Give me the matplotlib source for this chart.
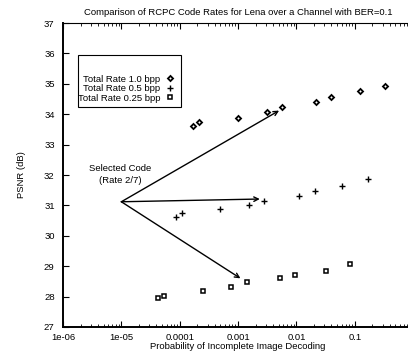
import matplotlib
matplotlib.use("Agg")
import matplotlib.pyplot as plt
from matplotlib.patches import Rectangle
import numpy as np

plt.rcParams['font.family'] = ['Liberation Sans', 'DejaVu Sans']

# probability of incomplete decoding vs PSNR, one series per total rate
p_10 = [1.70e-4, 2.16e-4, 1.0e-3, 3.08e-3, 5.69e-3, 0.0215, 0.0399, 0.125, 0.336]
psnr_10 = [33.61, 33.73, 33.89, 34.06, 34.23, 34.39, 34.57, 34.75, 34.94]

p_05 = [8.5e-5, 1.10e-4, 5.0e-4, 1.53e-3, 2.77e-3, 0.0113, 0.0209, 0.0615, 0.167]
psnr_05 = [30.62, 30.74, 30.88, 31.02, 31.16, 31.32, 31.48, 31.64, 31.86]

p_025 = [4.19e-5, 5.36e-5, 2.52e-4, 7.44e-4, 1.42e-3, 5.26e-3, 9.66e-3, 0.0318, 0.082]
psnr_025 = [27.95, 28.02, 28.17, 28.32, 28.47, 28.61, 28.71, 28.85, 29.06]

labels = ["Total Rate 1.0 bpp", "Total Rate 0.5 bpp", "Total Rate 0.25 bpp"]

# selected code (rate 2/7) arrows
sel_x, sel_y = 1e-5, 31.12
arrow_x = [5.06e-3, 2.36e-3, 1.1e-3]
arrow_y = [34.12, 31.21, 28.6]

fs = 6.8

fig = plt.figure(figsize=(4.08, 3.53), dpi=100)
ax = fig.add_axes([0.1544, 0.0737, 0.858, 0.861])

ax.plot(p_10, psnr_10, ls='none', marker='D', ms=2.6, mfc='white', mec='black', mew=1.3, label=labels[0])
ax.plot(p_05, psnr_05, ls='none', marker='+', ms=4.5, mec='black', mew=1.0, label=labels[1])
ax.plot(p_025, psnr_025, ls='none', marker='s', ms=3.3, mfc='white', mec='black', mew=1.1, label=labels[2])

for xa, ya in zip(arrow_x, arrow_y):
    ax.annotate("", xy=(xa, ya), xytext=(sel_x, sel_y),
                arrowprops=dict(arrowstyle='->', color='black', lw=1.0,
                                shrinkA=0, shrinkB=0, mutation_scale=8))

ax.text(9.5e-6, 32.02, "Selected Code\n(Rate 2/7)", ha='center', va='center',
        fontsize=fs, linespacing=1.5)

ax.set_xscale('log')
ax.set_xlim(1e-6, 1)
ax.set_ylim(27, 37)
ax.set_yticks(np.arange(27, 38, 1))
ax.set_xticks([1e-6, 1e-5, 1e-4, 1e-3, 1e-2, 1e-1])
ax.set_xticklabels(["1e-06", "1e-05", "0.0001", "0.001", "0.01", "0.1"])
ax.tick_params(direction='in', top=True, right=False, labelsize=fs, length=4, width=0.8)
ax.tick_params(axis='y', pad=6)
ax.tick_params(axis='x', pad=4)
ax.tick_params(which='minor', direction='in', top=True, length=2, width=0.6)
ax.yaxis.set_minor_locator(matplotlib.ticker.NullLocator())
for s in ['left', 'bottom']:
    ax.spines[s].set_linewidth(1.4)
ax.spines['top'].set_linewidth(0.8)
ax.spines['right'].set_visible(False)

ax.set_title("Comparison of RCPC Code Rates for Lena over a Channel with BER=0.1",
             fontsize=fs, pad=6)
ax.set_xlabel("Probability of Incomplete Image Decoding", fontsize=fs, labelpad=0)
ax.set_ylabel("PSNR (dB)", fontsize=fs, labelpad=13)

# legend box drawn separately, entries right aligned with markers after text
ax.add_patch(Rectangle((0.043, 0.724), 0.293, 0.171, transform=ax.transAxes,
                       fill=False, ec='black', lw=0.8, zorder=5))
leg = ax.legend(loc='upper right', bbox_to_anchor=(0.342, 0.855), markerfirst=False,
                fontsize=fs, frameon=False, handlelength=1.0, handletextpad=0.6,
                borderpad=0.3, labelspacing=0.05)

fig.savefig("out.png", dpi=100)
